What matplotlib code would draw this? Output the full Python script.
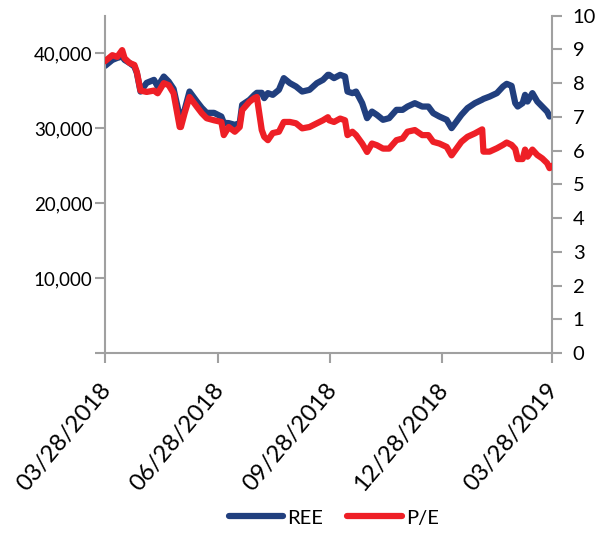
import matplotlib
matplotlib.use("Agg")
import matplotlib.pyplot as plt
import matplotlib.dates as mdates
import matplotlib.transforms as mtransforms
from matplotlib.ticker import FuncFormatter, NullFormatter
import pandas as pd

plt.rcParams['font.family'] = ['Lato', 'DejaVu Sans']

start_date = "2018-03-28"
day_offsets = [0, 3, 6, 10, 14, 16, 20, 24, 26, 29, 34, 40, 43, 48, 52, 56, 61, 62, 65, 69,
               75, 79, 83, 89, 95, 97, 101, 106, 110, 112, 118, 122, 124, 128, 130, 133, 137, 142, 146, 151,
               156, 161, 167, 173, 178, 182, 183, 187, 192, 196, 198, 202, 205, 210, 214, 218, 222, 227, 232, 238,
               243, 247, 253, 259, 264, 268, 273, 279, 283, 287, 291, 296, 302, 308, 309, 314, 320, 325, 328, 332,
               335, 337, 341, 343, 345, 349, 353, 357, 361, 363, 365]
ree = [38300, 38700, 39100, 39370, 39550, 39100, 38700, 38210, 37370, 34880, 36040, 36440, 35550, 36880, 36210, 35240, 31550, 31110, 32440, 34880,
       33550, 32710, 32040, 32040, 31550, 30710, 30670, 30440, 30670, 33110, 33770, 34440, 34710, 34710, 34000, 34670, 34440, 35110, 36670, 36000,
       35550, 34880, 35110, 36000, 36440, 37110, 37110, 36670, 37110, 36880, 34880, 34670, 34880, 33330, 31330, 32210, 31770, 31110, 31330, 32440,
       32440, 32880, 33330, 32880, 32880, 32000, 31550, 31110, 30000, 30880, 31770, 32670, 33330, 33800, 33900, 34210, 34670, 35550, 35910, 35640,
       33330, 32880, 33330, 34440, 33550, 34670, 33550, 32880, 32210, 31550, 31800]
pe = [8.65, 8.74, 8.83, 8.78, 8.98, 8.74, 8.60, 8.54, 8.33, 7.78, 7.74, 7.78, 7.70, 8.00, 7.94, 7.70, 6.70, 6.70, 7.11, 7.59,
      7.30, 7.11, 6.96, 6.90, 6.85, 6.46, 6.70, 6.56, 6.70, 7.20, 7.45, 7.56, 7.59, 6.61, 6.41, 6.31, 6.52, 6.56, 6.85, 6.85,
      6.81, 6.66, 6.70, 6.81, 6.90, 6.99, 6.90, 6.85, 6.95, 6.90, 6.46, 6.56, 6.46, 6.21, 5.96, 6.21, 6.16, 6.06, 6.06, 6.31,
      6.36, 6.56, 6.61, 6.46, 6.46, 6.26, 6.21, 6.11, 5.86, 6.06, 6.26, 6.41, 6.51, 6.63, 5.97, 5.97, 6.07, 6.17, 6.24, 6.17,
      6.05, 5.75, 5.75, 6.03, 5.82, 6.03, 5.87, 5.77, 5.63, 5.48, 5.55]
tick_dates = ["2018-03-28", "2018-06-28", "2018-09-28", "2018-12-28", "2019-03-28"]
left_ticks = [0, 10000, 20000, 30000, 40000]
right_ticks = list(range(0, 11))

dates = pd.Timestamp(start_date) + pd.to_timedelta(day_offsets, unit="D")
tick_ts = [pd.Timestamp(d) for d in tick_dates]

BLUE = "#213F7E"
RED = "#EE1F26"
AX = "#A0A0A0"

fig = plt.figure(figsize=(6.07, 5.34), dpi=100)
ax = fig.add_axes([105/607, 1-353/534, (552-105)/607, (353-15.7)/534])
ax2 = ax.twinx()

ax.plot(dates, ree, color=BLUE, lw=4.5, solid_capstyle="round", solid_joinstyle="round", label="REE", zorder=2)
ax2.plot(dates, pe, color=RED, lw=4.5, solid_capstyle="round", solid_joinstyle="round", label="P/E", zorder=3)

ax.set_xlim(tick_ts[0], tick_ts[-1])
ax.set_ylim(0, 45000)
ax2.set_ylim(0, 10)

ax.set_xticks(tick_ts)
ax.xaxis.set_major_formatter(NullFormatter())
ax.set_yticks(left_ticks)
ax.yaxis.set_major_formatter(FuncFormatter(lambda v, p: "" if v == 0 else f"{int(v):,}"))
ax2.set_yticks(right_ticks)

for a in (ax, ax2):
    a.spines["top"].set_visible(False)
    for s in ("left", "right", "bottom"):
        a.spines[s].set_color(AX)
        a.spines[s].set_linewidth(1.5)
ax.spines["right"].set_visible(False)
ax2.spines["left"].set_visible(False)
ax2.spines["bottom"].set_visible(False)

ax.tick_params(axis="both", colors=AX, length=7, width=1.5, labelcolor="black")
ax.tick_params(axis="y", labelsize=13.5, pad=2)
ax2.tick_params(axis="y", colors=AX, length=7, width=1.5, labelsize=14.5, labelcolor="black", pad=8)

offset = mtransforms.ScaledTranslation(-5.5/100, -26/100, fig.dpi_scale_trans)
for t in tick_ts:
    ax.text(mdates.date2num(t), 0, t.strftime("%m/%d/%Y"), transform=ax.get_xaxis_transform() + offset,
            rotation=50, rotation_mode="anchor", ha="right", va="top", fontsize=17.3, color="black")

h1, l1 = ax.get_legend_handles_labels()
h2, l2 = ax2.get_legend_handles_labels()
fig.legend(h1 + h2, l1 + l2, loc="center", bbox_to_anchor=(0.55, 0.03), ncol=2, frameon=False,
           fontsize=14.5, handlelength=2.7, handletextpad=0.2, columnspacing=1.2)

fig.savefig("out.png", dpi=100)
